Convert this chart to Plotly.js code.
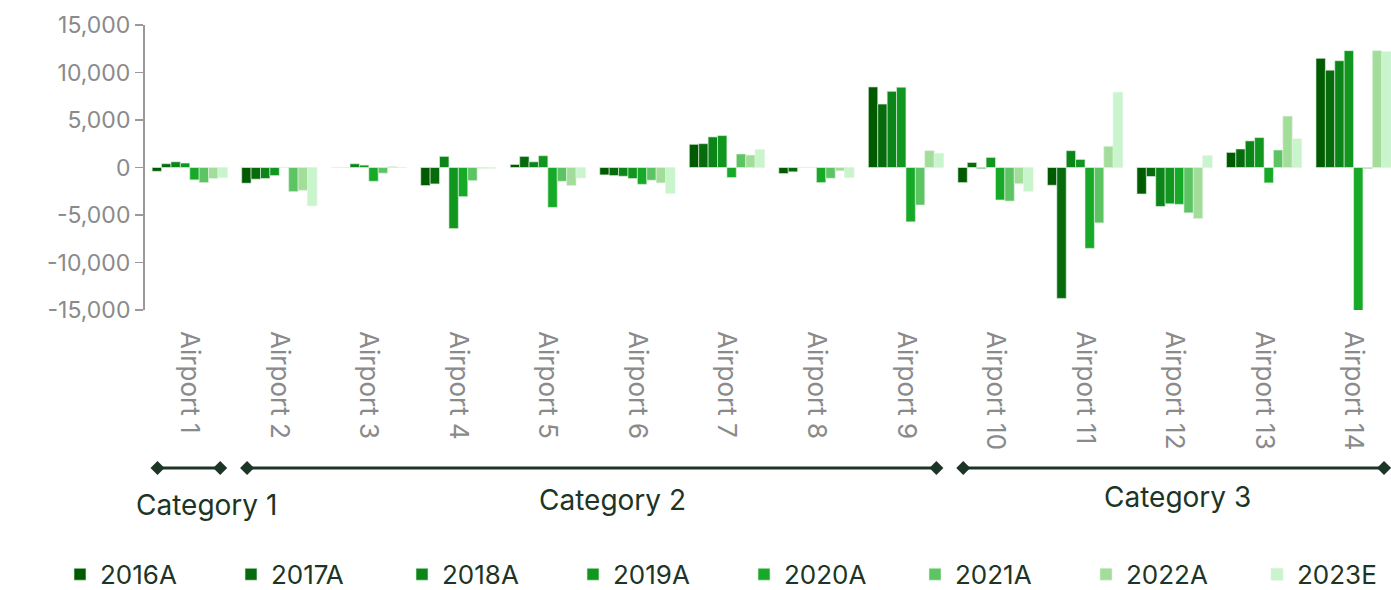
<!DOCTYPE html>
<html>
<head>
<meta charset="utf-8">
<script src="https://cdn.plot.ly/plotly-3.0.1.min.js"></script>
<style>html,body{margin:0;padding:0;background:#fff;}#chart{width:1391px;height:590px;}</style>
</head>
<body>
<div id="chart"></div>
<script>
// ---- data ----
const airports = ['Airport 1','Airport 2','Airport 3','Airport 4','Airport 5','Airport 6','Airport 7',
                  'Airport 8','Airport 9','Airport 10','Airport 11','Airport 12','Airport 13','Airport 14'];
const seriesNames = ['2016A','2017A','2018A','2019A','2020A','2021A','2022A','2023E'];
const v2016A = [-400, -1650, 0, -1900, 320, -780, 2440, -640, 8480, -1590, -1870, -2790, 1590, 11490];
const v2017A = [400, -1230, 0, -1730, 1170, -850, 2510, -460, 6680, 530, -13780, -950, 1950, 10250];
const v2018A = [600, -1160, 390, 1170, 600, -920, 3220, 0, 8020, -120, 1770, -4100, 2800, 11240];
const v2019A = [470, -850, 250, -6430, 1240, -1160, 3360, 0, 8450, 1060, 850, -3820, 3150, 12300];
const v2020A = [-1300, 0, -1450, -3070, -4200, -1770, -1060, -1590, -5720, -3420, -8510, -3880, -1620, -15370];
const v2021A = [-1590, -2540, -600, -1380, -1450, -1340, 1420, -1130, -3950, -3530, -5830, -4770, 1840, -120];
const v2022A = [-1160, -2400, 100, -80, -1900, -1620, 1310, -350, 1770, -1700, 2230, -5370, 5410, 12300];
const v2023E = [-1060, -4030, 0, -80, -1100, -2720, 1880, -1060, 1480, -2500, 7920, 1240, 3010, 12190];
const seriesValues = [v2016A, v2017A, v2018A, v2019A, v2020A, v2021A, v2022A, v2023E];
const seriesColors = ['#005a00','#076b0e','#0b8418','#11961f','#16aa28','#5cc462','#a2de99','#c8f5cc'];
const categoryNames = ['Category 1','Category 2','Category 3'];
const categoryStart = [0, 1, 9];   // first airport index of each category
const categoryEnd   = [0, 8, 13];  // last airport index of each category
const yTickVals = [-15000, -10000, -5000, 0, 5000, 10000, 15000];
const yTickText = ['-15,000', '-10,000', '-5,000', '0', '5,000', '10,000', '15,000'];

// ---- styling ----
const FONT = 'Inter, "Noto Sans", sans-serif';
const GRAY = '#8a8a8a';
const AXIS = '#9a9a9a';
const DARK = '#1c3526';
const yMin = yTickVals[0], yMax = yTickVals[yTickVals.length - 1];
const xMax = airports.length - 0.5 - 0.082;

const traces = seriesNames.map((name, i) => ({
  type: 'bar',
  name: name,
  x: airports,
  y: seriesValues[i],
  marker: {color: seriesColors[i], line: {color: 'rgba(225,240,225,0.9)', width: 0.7}},
  cliponaxis: false,
  hoverinfo: 'x+y+name'
}));

// boundary ticks between categories on the zero line axis
const boundaries = airports.slice(1).map((_, i) => i + 0.5);

const shapes = [];
const annotations = [];
const bracketY = -0.554;
const labelY = [-0.684, -0.667, -0.656];
const labelX = [0.19, 4.72, 11.03];
const diamond = 'M -7 0 L 0 7 L 7 0 L 0 -7 Z';
categoryNames.forEach((c, k) => {
  const x0 = categoryStart[k] - 0.5 + 0.14;
  const x1 = categoryEnd[k] + 0.5 - 0.16;
  shapes.push({type: 'line', xref: 'x', yref: 'paper', x0: x0, x1: x1, y0: bracketY, y1: bracketY,
               line: {color: DARK, width: 3}});
  [x0, x1].forEach(xx => shapes.push({type: 'path', xref: 'x', yref: 'paper', xsizemode: 'pixel', ysizemode: 'pixel',
               xanchor: xx, yanchor: bracketY, path: diamond, fillcolor: DARK, line: {width: 0}}));
  annotations.push({text: c, xref: 'x', yref: 'paper', x: labelX[k], y: labelY[k], showarrow: false,
                    xanchor: 'center', yanchor: 'middle', font: {family: FONT, size: 28, color: DARK}});
});

const layout = {
  width: 1391, height: 590,
  margin: {l: 145, r: 0, t: 25, b: 280, autoexpand: false},
  paper_bgcolor: '#ffffff', plot_bgcolor: '#ffffff',
  font: {family: FONT, color: GRAY},
  barmode: 'group', bargap: 0.16, bargroupgap: 0,
  showlegend: true,
  xaxis: {
    type: 'category', range: [-0.5, xMax], fixedrange: true,
    tickangle: 90, ticks: '', showline: false, showgrid: false, zeroline: false,
    ticklabelstandoff: 20,
    tickfont: {family: FONT, size: 26, color: GRAY}
  },
  xaxis2: {
    overlaying: 'x', anchor: 'free', position: (0 - yMin) / (yMax - yMin),
    range: [-0.5, xMax], showgrid: false, zeroline: false,
    showline: true, linecolor: AXIS, linewidth: 2.5,
    tickmode: 'array', tickvals: boundaries, ticks: 'outside', ticklen: 10, tickwidth: 2, tickcolor: AXIS,
    showticklabels: false, layer: 'above traces'
  },
  yaxis: {
    range: [yMin, yMax], fixedrange: true, showgrid: false, zeroline: false,
    showline: true, linecolor: AXIS, linewidth: 2,
    ticks: 'outside', ticklen: 8, tickwidth: 1.5, tickcolor: AXIS,
    tickmode: 'array', tickvals: yTickVals, ticktext: yTickText,
    tickfont: {family: FONT, size: 23, color: GRAY}
  },
  legend: {
    orientation: 'h', xref: 'paper', yref: 'paper',
    x: (60 - 145) / 1246, xanchor: 'left', y: -0.845, yanchor: 'top',
    entrywidth: 126, entrywidthmode: 'pixels', itemwidth: 30,
    font: {family: FONT, size: 26, color: DARK}, traceorder: 'normal',
    bgcolor: 'rgba(0,0,0,0)'
  },
  shapes: shapes,
  annotations: annotations
};

Plotly.newPlot('chart', traces, layout, {displayModeBar: false, staticPlot: true});
</script>
</body>
</html>
